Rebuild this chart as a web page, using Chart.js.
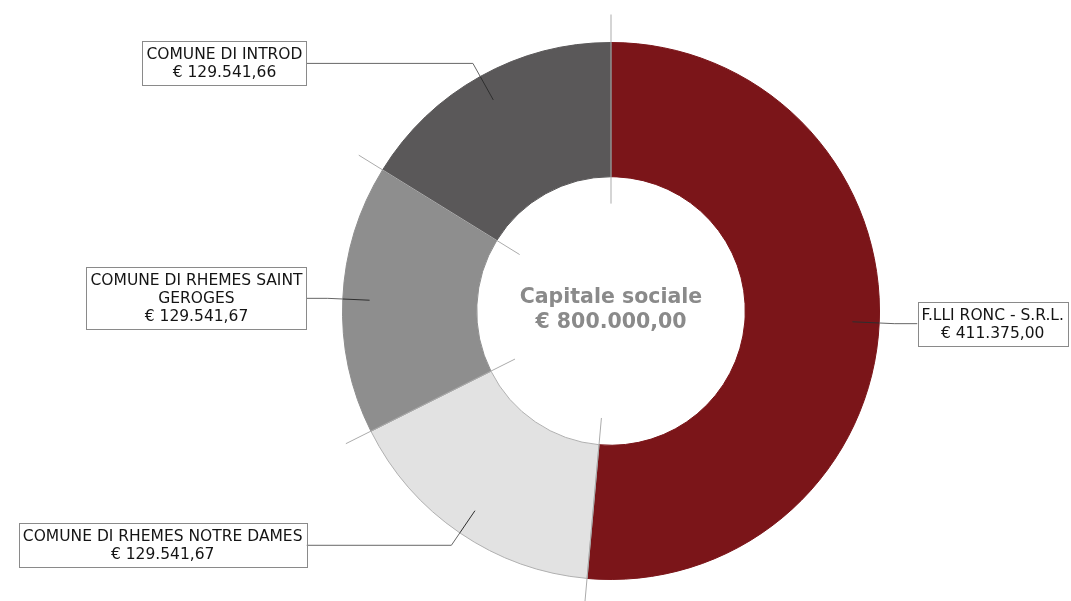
<!DOCTYPE html>
<html>
<head>
<meta charset="utf-8">
<script src="https://cdn.jsdelivr.net/npm/chart.js@4.4.1/dist/chart.umd.min.js"></script>
<style>
  html, body { margin: 0; padding: 0; background: #ffffff; }
  #wrap { width: 1071px; height: 601px; }
</style>
</head>
<body>
<div id="wrap"><canvas id="c" width="1071" height="601"></canvas></div>
<script>
// ---- data ----
const categories = [
  'F.LLI RONC - S.R.L.',
  'COMUNE DI RHEMES NOTRE DAMES',
  'COMUNE DI RHEMES SAINT GEROGES',
  'COMUNE DI INTROD'
];
// how each category name is broken into lines inside its label box
const labelLines = [
  ['F.LLI RONC - S.R.L.'],
  ['COMUNE DI RHEMES NOTRE DAMES'],
  ['COMUNE DI RHEMES SAINT', 'GEROGES'],
  ['COMUNE DI INTROD']
];
const values = [411375.00, 129541.67, 129541.67, 129541.66];
const centerTitle = 'Capitale sociale';
const sliceColors = ['#7b1519', '#e2e2e2', '#8e8e8e', '#5a5859'];
const sliceBorders = ['#7b1519', '#b0b0b0', '#8e8e8e', '#5a5859'];

function fmtEuro(v) {
  const fixed = v.toFixed(2);
  const parts = fixed.split('.');
  const intPart = parts[0].replace(/\B(?=(\d{3})+(?!\d))/g, '.');
  return '€ ' + intPart + ',' + parts[1];
}

const total = values.reduce((a, b) => a + b, 0);

const decorPlugin = {
  id: 'decor',
  afterDatasetsDraw(chart) {
    const ctx = chart.ctx;
    const meta = chart.getDatasetMeta(0);
    if (!meta.data.length) return;
    const arc0 = meta.data[0];
    const cx = arc0.x, cy = arc0.y, R = arc0.outerRadius;

    ctx.save();
    // separator lines along slice boundaries
    ctx.strokeStyle = '#ababab';
    ctx.lineWidth = 1;
    meta.data.forEach(arc => {
      const a = arc.startAngle;
      ctx.beginPath();
      ctx.moveTo(cx + Math.cos(a) * R * 0.40, cy + Math.sin(a) * R * 0.40);
      ctx.lineTo(cx + Math.cos(a) * (R + 28), cy + Math.sin(a) * (R + 28));
      ctx.stroke();
    });

    // labels with leader lines
    const fontSize = 15.5;
    const lineH = 18;
    ctx.font = fontSize + 'px "DejaVu Sans"';
    meta.data.forEach((arc, i) => {
      const a = (arc.startAngle + arc.endAngle) / 2;
      const p1x = cx + Math.cos(a) * R * 0.9, p1y = cy + Math.sin(a) * R * 0.9;
      const pEx = cx + Math.cos(a) * R, pEy = cy + Math.sin(a) * R;
      const p2x = cx + Math.cos(a) * (R + 15), p2y = cy + Math.sin(a) * (R + 15);
      const right = Math.cos(a) >= 0;
      const p3x = right ? cx + R + 38 : cx - R - 36;
      const p3y = p2y;

      ctx.lineWidth = 1;
      ctx.strokeStyle = '#2e2e2e';
      ctx.beginPath();
      ctx.moveTo(p1x, p1y);
      ctx.lineTo(pEx, pEy);
      ctx.stroke();
      ctx.strokeStyle = '#666666';
      ctx.beginPath();
      ctx.moveTo(pEx, pEy);
      ctx.lineTo(p2x, p2y);
      ctx.lineTo(p3x, p3y);
      ctx.stroke();

      const lines = labelLines[i].concat([fmtEuro(values[i])]);
      let w = 0;
      lines.forEach(t => { w = Math.max(w, ctx.measureText(t).width); });
      const bw = w + 8;
      const bh = lines.length * lineH + 8;
      const bx = right ? p3x : p3x - bw;
      const by = p3y - bh / 2;
      ctx.fillStyle = '#ffffff';
      ctx.fillRect(bx, by, bw, bh);
      ctx.strokeStyle = '#8a8a8a';
      ctx.strokeRect(Math.round(bx) + 0.5, Math.round(by) + 0.5, Math.round(bw), Math.round(bh));
      ctx.fillStyle = '#141414';
      ctx.textAlign = 'center';
      ctx.textBaseline = 'middle';
      lines.forEach((t, k) => {
        ctx.fillText(t, bx + bw / 2, p3y + (k - (lines.length - 1) / 2) * lineH + 1);
      });
    });

    // centre text
    ctx.fillStyle = '#8a8a8a';
    ctx.font = 'bold 20.5px "DejaVu Sans"';
    ctx.textAlign = 'center';
    ctx.textBaseline = 'middle';
    ctx.fillText(centerTitle, cx, cy - 13);
    ctx.fillText(fmtEuro(total), cx, cy + 12);
    ctx.restore();
  }
};

new Chart(document.getElementById('c'), {
  type: 'doughnut',
  data: {
    labels: categories,
    datasets: [{
      data: values,
      backgroundColor: sliceColors,
      borderColor: sliceBorders,
      borderWidth: 1,
      hoverOffset: 0
    }]
  },
  options: {
    responsive: false,
    animation: false,
    cutout: '50%',
    layout: { padding: { top: 42, bottom: 21, left: 342, right: 191 } },
    plugins: {
      legend: { display: false },
      tooltip: { enabled: false }
    }
  },
  plugins: [decorPlugin]
});
</script>
</body>
</html>
